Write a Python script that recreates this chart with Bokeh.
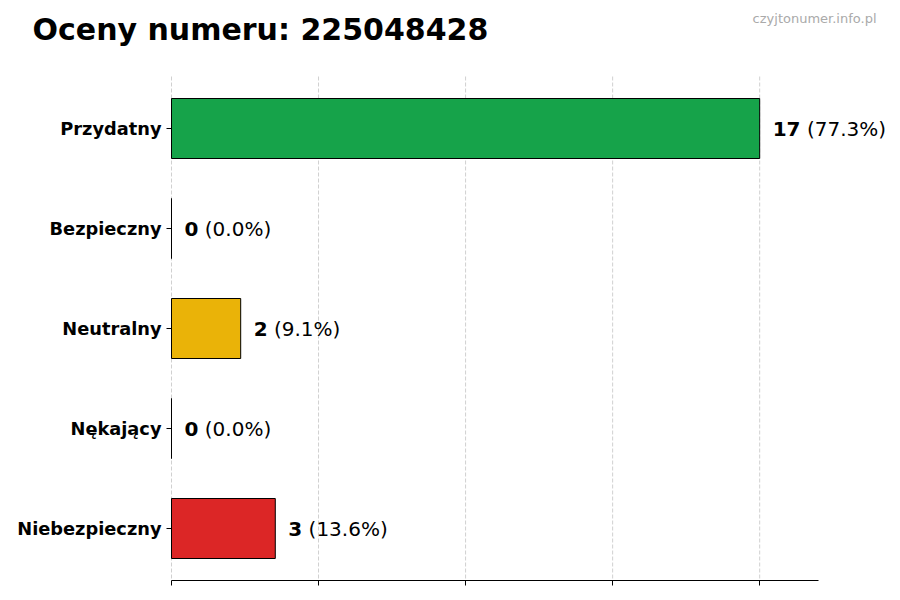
from bokeh.plotting import figure
from bokeh.models import Range1d, FixedTicker, ColumnDataSource
from bokeh.core.properties import value
from bokeh.embed import file_html
from bokeh.resources import INLINE

categories = ["Przydatny", "Bezpieczny", "Neutralny", "Nękający", "Niebezpieczny"]
counts = [17, 0, 2, 0, 3]
colors = ["#16a34a", "#2563eb", "#eab308", "#f97316", "#dc2626"]
title_text = "Oceny numeru: 225048428"
watermark_text = "czyjtonumer.info.pl"

total = sum(counts)
pct_labels = [f"({c / total * 100:.1f}%)" for c in counts]
count_labels = [str(c) for c in counts]
positions = list(range(len(categories)))
vmax = max(counts)

FONT = "DejaVu Sans"

# ---- layout (pixels) ----
CANVAS_W, FRAME_H = 892, 580
AXIS_LEFT_PX = 171     # where x = 0 sits
AXIS_W = 647           # visible length of the x axis
ROW_PX = 100           # pixels per category
TOP_PX = 128           # centre of first category from the top

x_axis_end = vmax * 1.1
u = x_axis_end / AXIS_W                      # data units per pixel
x_start = -AXIS_LEFT_PX * u
x_end = (CANVAS_W - AXIS_LEFT_PX) * u
y_top = -TOP_PX / ROW_PX
y_bottom = y_top + FRAME_H / ROW_PX
pad = 0.52                                   # axes margin around categories
ticks = [vmax * i / 4 for i in range(5)]

src = ColumnDataSource(dict(
    pos=positions,
    cnt=counts,
    color=colors,
    cnt_lbl=count_labels,
    pct_lbl=pct_labels,
    pct_off=[13 + len(s) * 13.92 + 6.36 for s in count_labels],
))

p = figure(
    x_range=Range1d(x_start, x_end),
    y_range=Range1d(y_bottom, y_top),
    frame_width=CANVAS_W, frame_height=FRAME_H,
    min_border_left=0, min_border_right=0, min_border_top=0, min_border_bottom=12,
    output_backend="svg", toolbar_location=None,
)
p.outline_line_color = None
p.background_fill_color = "white"
p.border_fill_color = "white"
p.grid.visible = False

# dashed vertical grid lines limited to the axes area
p.segment(x0=ticks, x1=ticks, y0=[-pad] * len(ticks),
          y1=[positions[-1] + pad] * len(ticks),
          line_color="#d0d0d0", line_dash="4 2", line_width=1)

p.hbar(y="pos", left=0, right="cnt", height=0.6, source=src,
       fill_color="color", line_color="black", line_width=1)

p.text(x="cnt", y="pos", text="cnt_lbl", source=src, x_offset=13,
       text_font=value(FONT), text_font_style="bold", text_font_size="20px",
       text_baseline="middle", text_align="left", text_color="black")
p.text(x="cnt", y="pos", text="pct_lbl", source=src, x_offset="pct_off",
       text_font=value(FONT), text_font_size="20px",
       text_baseline="middle", text_align="left", text_color="black")

# title and watermark
p.text(x=[x_start], y=[y_top], text=[title_text], x_offset=32, y_offset=29,
       text_font=value(FONT), text_font_style="bold", text_font_size="30px",
       text_color="black", text_align="left", text_baseline="alphabetic")
p.text(x=[x_end], y=[y_top], text=[watermark_text], x_offset=-16, y_offset=18,
       text_font=value(FONT), text_font_size="13px", text_color="#aaaaaa",
       text_align="right", text_baseline="alphabetic")

# x axis (no labels)
p.xaxis.ticker = FixedTicker(ticks=ticks)
p.xaxis.bounds = (0, x_axis_end)
p.xaxis.major_label_overrides = {t: "" for t in ticks}
p.xaxis.major_label_standoff = 0
p.xaxis.axis_line_color = "black"
p.xaxis.axis_line_width = 1
p.xaxis.major_tick_out = 5
p.xaxis.major_tick_in = 0
p.xaxis.minor_tick_line_color = None

# y axis placed at x = 0 inside the frame
p.yaxis.fixed_location = 0
p.yaxis.ticker = FixedTicker(ticks=positions)
p.yaxis.major_label_overrides = {i: c for i, c in zip(positions, categories)}
p.yaxis.axis_line_color = None
p.yaxis.minor_tick_line_color = None
p.yaxis.major_tick_out = 5
p.yaxis.major_tick_in = 0
p.yaxis.major_label_standoff = 5
p.yaxis.major_label_text_font = FONT
p.yaxis.major_label_text_font_style = "bold"
p.yaxis.major_label_text_font_size = "17.8px"
p.yaxis.major_label_text_color = "black"

open("out.html", "w").write(file_html(p, INLINE))
